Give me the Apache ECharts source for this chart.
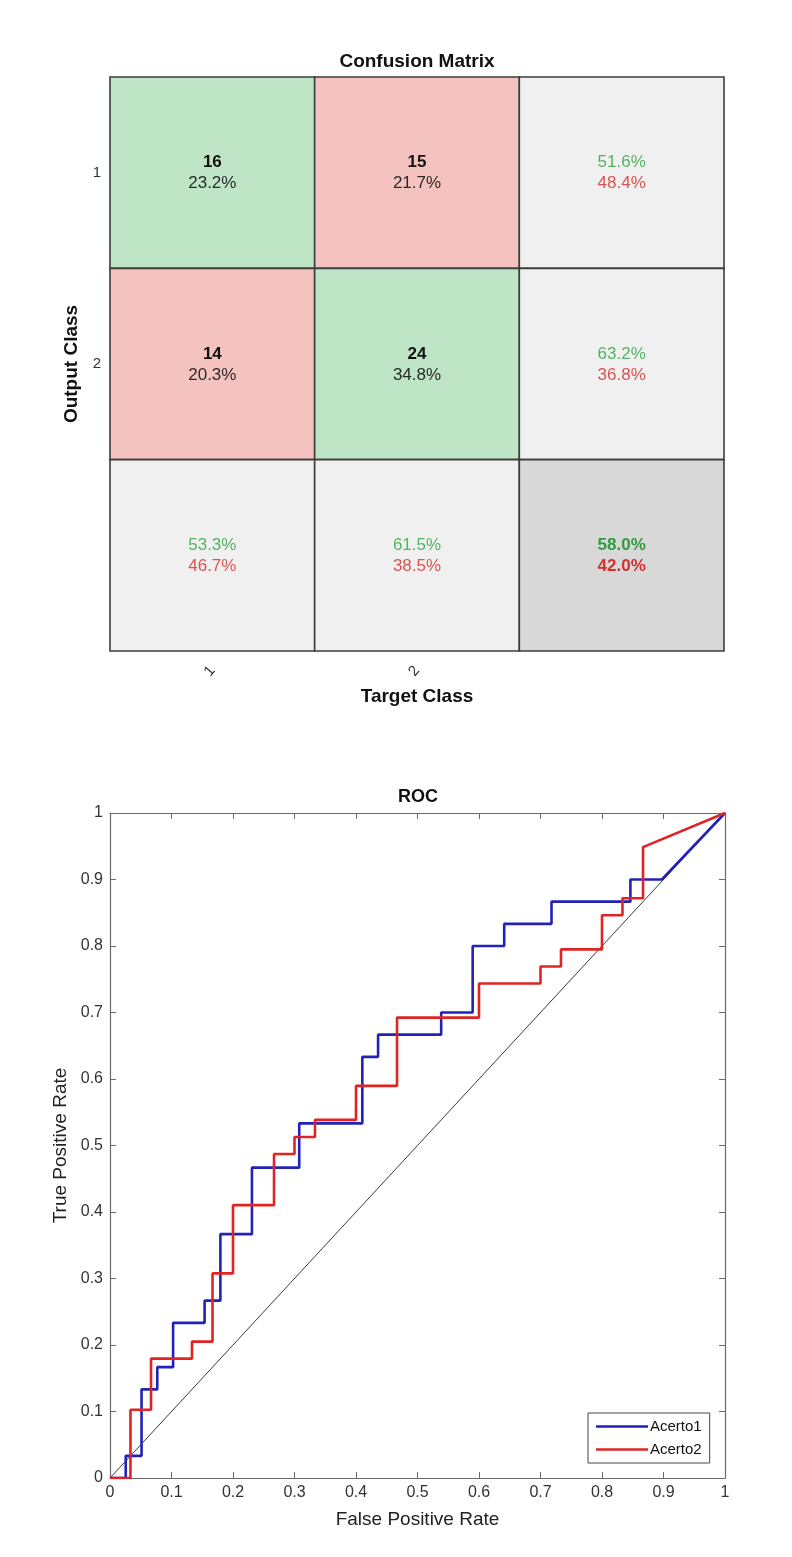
<!DOCTYPE html>
<html>
<head>
<meta charset="utf-8">
<script src="https://cdn.jsdelivr.net/npm/echarts@6/dist/echarts.min.js"></script>
<style>
  html, body { margin: 0; padding: 0; background: #ffffff; }
  #chart { width: 792px; height: 1557px; }
</style>
</head>
<body>
<div id="chart"></div>
<script>
// ---- Confusion matrix (rows = output class, columns = target class) ----
const targetClasses = ['1', '2', ''];
const outputClasses = ['1', '2', ''];
const counts = [[16, 15], [14, 24]];
const cellPercents = [[23.2, 21.7], [20.3, 34.8]];
const rowCorrect = [51.6, 63.2];
const rowWrong = [48.4, 36.8];
const colCorrect = [53.3, 61.5];
const colWrong = [46.7, 38.5];
const overallCorrect = 58.0;
const overallWrong = 42.0;

// ---- ROC curves ----
const rocTicks = [0, 0.1, 0.2, 0.3, 0.4, 0.5, 0.6, 0.7, 0.8, 0.9, 1];
const acerto1Fpr = [0, 0.0256, 0.0256, 0.0513, 0.0513, 0.0769, 0.0769, 0.1026, 0.1026, 0.1538, 0.1538, 0.1795, 0.1795, 0.2308, 0.2308, 0.3077, 0.3077, 0.4103, 0.4103, 0.4359, 0.4359, 0.5385, 0.5385, 0.5897, 0.5897, 0.6410, 0.6410, 0.7179, 0.7179, 0.8462, 0.8462, 0.8974, 1];
const acerto1Tpr = [0, 0, 0.0333, 0.0333, 0.1333, 0.1333, 0.1667, 0.1667, 0.2333, 0.2333, 0.2667, 0.2667, 0.3667, 0.3667, 0.4667, 0.4667, 0.5333, 0.5333, 0.6333, 0.6333, 0.6667, 0.6667, 0.7, 0.7, 0.8, 0.8, 0.8333, 0.8333, 0.8667, 0.8667, 0.9, 0.9, 1];
const acerto2Fpr = [0, 0.0333, 0.0333, 0.0667, 0.0667, 0.1333, 0.1333, 0.1667, 0.1667, 0.2, 0.2, 0.2667, 0.2667, 0.3, 0.3, 0.3333, 0.3333, 0.4, 0.4, 0.4667, 0.4667, 0.6, 0.6, 0.7, 0.7, 0.7333, 0.7333, 0.8, 0.8, 0.8333, 0.8333, 0.8667, 0.8667, 1];
const acerto2Tpr = [0, 0, 0.1026, 0.1026, 0.1795, 0.1795, 0.2051, 0.2051, 0.3077, 0.3077, 0.4103, 0.4103, 0.4872, 0.4872, 0.5128, 0.5128, 0.5385, 0.5385, 0.5897, 0.5897, 0.6923, 0.6923, 0.7436, 0.7436, 0.7692, 0.7692, 0.7949, 0.7949, 0.8462, 0.8462, 0.8718, 0.8718, 0.9487, 1];
const chanceLine = [0, 1];

const FONT = '"Liberation Sans", Arial, Helvetica, sans-serif';
const pct = v => v.toFixed(1) + '%';
const zip = (xs, ys) => xs.map((x, i) => [x, ys[i]]);

// Cell descriptors for the matrix, in drawing order
const matrixCells = [];
for (let r = 0; r < 2; r++) {
  for (let c = 0; c < 2; c++) {
    matrixCells.push({ col: c, row: r, kind: r === c ? 'hit' : 'miss',
      lines: [String(counts[r][c]), pct(cellPercents[r][c])] });
  }
}
for (let r = 0; r < 2; r++) {
  matrixCells.push({ col: 2, row: r, kind: 'margin', lines: [pct(rowCorrect[r]), pct(rowWrong[r])] });
}
for (let c = 0; c < 2; c++) {
  matrixCells.push({ col: c, row: 2, kind: 'margin', lines: [pct(colCorrect[c]), pct(colWrong[c])] });
}
matrixCells.push({ col: 2, row: 2, kind: 'total', lines: [pct(overallCorrect), pct(overallWrong)] });

const cellStyles = {
  hit:    { fill: '#bde5c6', c1: '#111111', c2: '#2a2a2a', w1: 'bold', w2: 'normal' },
  miss:   { fill: '#f5c3bf', c1: '#111111', c2: '#2a2a2a', w1: 'bold', w2: 'normal' },
  margin: { fill: '#f0f0f0', c1: '#52b462', c2: '#d9544f', w1: 'normal', w2: 'normal' },
  total:  { fill: '#d8d8d8', c1: '#2f9b3e', c2: '#d33030', w1: 'bold', w2: 'bold' }
};

function renderCell(params, api) {
  const cell = matrixCells[params.dataIndex];
  const st = cellStyles[cell.kind];
  const center = api.coord([api.value(0), api.value(1)]);
  const size = api.size([1, 1]);
  const textStyle = (text, color, weight) => ({
    text: text, fill: color, font: weight + ' 17px ' + FONT,
    align: 'center', verticalAlign: 'middle', textAlign: 'center', textVerticalAlign: 'middle'
  });
  return {
    type: 'group',
    children: [
      { type: 'rect',
        shape: { x: center[0] - size[0] / 2, y: center[1] - size[1] / 2, width: size[0], height: size[1] },
        style: { fill: st.fill, stroke: '#3d3d3d', lineWidth: 1.6 } },
      { type: 'text', x: center[0], y: center[1] - 10, style: textStyle(cell.lines[0], st.c1, st.w1) },
      { type: 'text', x: center[0], y: center[1] + 11, style: textStyle(cell.lines[1], st.c2, st.w2) }
    ]
  };
}

const chart = echarts.init(document.getElementById('chart'), null, { renderer: 'canvas' });

// Boxed ROC axes: ticks point inward on all four sides
const rocAxisCommon = {
  type: 'value', min: rocTicks[0], max: rocTicks[rocTicks.length - 1], interval: 0.1,
  axisLine: { show: true, onZero: false, lineStyle: { color: '#6a6a6a', width: 1.2 } },
  axisTick: { show: true, inside: true, length: 6, lineStyle: { color: '#6a6a6a' } },
  splitLine: { show: false }
};

chart.setOption({
  animation: false,
  backgroundColor: '#ffffff',
  textStyle: { fontFamily: FONT },
  graphic: [
    { type: 'text', x: 417, y: 62,
      style: { text: 'Confusion Matrix', font: 'bold 19px ' + FONT, fill: '#111',
               align: 'center', verticalAlign: 'middle', textAlign: 'center', textVerticalAlign: 'middle' } },
    { type: 'text', x: 418, y: 797,
      style: { text: 'ROC', font: 'bold 18px ' + FONT, fill: '#111',
               align: 'center', verticalAlign: 'middle', textAlign: 'center', textVerticalAlign: 'middle' } }
  ],
  grid: [
    { left: 110, top: 77, width: 614, height: 574 },
    { left: 110, top: 813, width: 615, height: 665 }
  ],
  xAxis: [
    { gridIndex: 0, type: 'category', data: targetClasses, boundaryGap: true,
      axisLine: { show: false }, axisTick: { show: false }, splitLine: { show: false },
      axisLabel: { rotate: 50, fontSize: 15, color: '#333', margin: 17 },
      name: 'Target Class', nameLocation: 'middle', nameGap: 36,
      nameTextStyle: { fontSize: 19, fontWeight: 'bold', color: '#111' } },
    Object.assign({}, rocAxisCommon, { gridIndex: 1, position: 'bottom',
      axisLabel: { fontSize: 16, color: '#333', margin: 7 },
      name: 'False Positive Rate', nameLocation: 'middle', nameGap: 32,
      nameTextStyle: { fontSize: 19, color: '#222' } }),
    Object.assign({}, rocAxisCommon, { gridIndex: 1, position: 'top', axisLabel: { show: false } })
  ],
  yAxis: [
    { gridIndex: 0, type: 'category', data: outputClasses, inverse: true, boundaryGap: true,
      axisLine: { show: false }, axisTick: { show: false }, splitLine: { show: false },
      axisLabel: { fontSize: 15, color: '#333', margin: 9 },
      name: 'Output Class', nameLocation: 'middle', nameGap: 26, nameRotate: 90,
      nameTextStyle: { fontSize: 19, fontWeight: 'bold', color: '#111' } },
    Object.assign({}, rocAxisCommon, { gridIndex: 1, position: 'left',
      axisLabel: { fontSize: 16, color: '#333', margin: 7 },
      name: 'True Positive Rate', nameLocation: 'middle', nameGap: 38, nameRotate: 90,
      nameTextStyle: { fontSize: 19, color: '#222' } }),
    Object.assign({}, rocAxisCommon, { gridIndex: 1, position: 'right', axisLabel: { show: false } })
  ],
  legend: {
    data: ['Acerto1', 'Acerto2'],
    orient: 'vertical', left: 588, top: 1413,
    icon: 'rect', itemWidth: 52, itemHeight: 2.6, itemGap: 8,
    padding: [6, 8, 6, 8],
    backgroundColor: '#ffffff', borderColor: '#444', borderWidth: 1, borderRadius: 0,
    textStyle: { fontSize: 15, color: '#111', padding: [0, 0, 0, -3] }
  },
  series: [
    { type: 'custom', name: 'matrix', xAxisIndex: 0, yAxisIndex: 0,
      renderItem: renderCell,
      data: matrixCells.map(c => [c.col, c.row]) },
    { type: 'line', name: 'chance', xAxisIndex: 1, yAxisIndex: 1,
      data: zip(chanceLine, chanceLine), symbol: 'none', silent: true,
      lineStyle: { color: '#3a3a3a', width: 1 } },
    { type: 'line', name: 'Acerto1', xAxisIndex: 1, yAxisIndex: 1,
      data: zip(acerto1Fpr, acerto1Tpr), symbol: 'none', color: '#2222b8',
      lineStyle: { color: '#2222b8', width: 2.6 } },
    { type: 'line', name: 'Acerto2', xAxisIndex: 1, yAxisIndex: 1,
      data: zip(acerto2Fpr, acerto2Tpr), symbol: 'none', color: '#e02424',
      lineStyle: { color: '#e02424', width: 2.6 } }
  ]
});
</script>
</body>
</html>
